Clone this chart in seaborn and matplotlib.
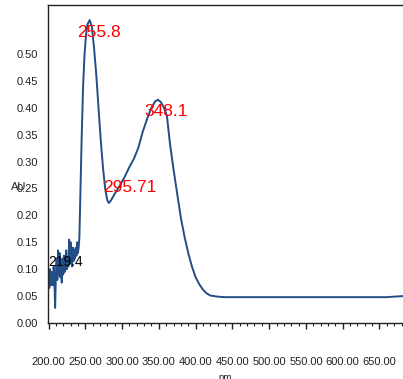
import matplotlib
matplotlib.use("Agg")
import matplotlib.pyplot as plt
import seaborn as sns
import pandas as pd
import numpy as np

# Spectrum data (wavelength nm, absorbance AU)
noise_nm = list(range(200, 243))
noise_au = [0.09, 0.065, 0.10, 0.07, 0.095, 0.075, 0.07, 0.105, 0.08, 0.028,
            0.09, 0.12, 0.08, 0.135, 0.09, 0.13, 0.085, 0.11, 0.075, 0.12,
            0.09, 0.125, 0.095, 0.10, 0.135, 0.10, 0.12, 0.105, 0.155, 0.11,
            0.15, 0.12, 0.105, 0.14, 0.115, 0.135, 0.12, 0.14, 0.125, 0.15,
            0.13, 0.14, 0.16]
band_nm = [243, 245, 247, 249, 251, 253, 256, 259, 262, 265, 268, 271, 274,
           277, 280, 282, 285, 290, 296, 303, 310, 316, 322, 328, 335, 340,
           345, 349, 353, 357, 361, 365, 370, 375, 380, 385, 390, 395, 400,
           405, 410, 415, 420, 430, 440]
band_au = [0.22, 0.34, 0.44, 0.50, 0.535, 0.555, 0.563, 0.55, 0.51, 0.46,
           0.40, 0.34, 0.29, 0.25, 0.228, 0.223, 0.228, 0.24, 0.253, 0.27,
           0.29, 0.305, 0.325, 0.355, 0.383, 0.40, 0.412, 0.415, 0.41, 0.40,
           0.385, 0.335, 0.285, 0.24, 0.195, 0.16, 0.13, 0.105, 0.085, 0.072,
           0.062, 0.055, 0.051, 0.049, 0.048]
tail_nm = [460, 500, 550, 600, 640, 660, 670, 682]
tail_au = [0.048, 0.048, 0.048, 0.048, 0.048, 0.048, 0.049, 0.05]

peak_labels = ["255.8", "348.1", "295.71"]
peak_x = [268, 360, 310]
peak_y = [0.539, 0.394, 0.251]
small_label = "219.4"
small_x, small_y = 223, 0.113

yticks = [0.00, 0.05, 0.10, 0.15, 0.20, 0.25, 0.30, 0.35, 0.40, 0.45, 0.50]
xticks = [200, 250, 300, 350, 400, 450, 500, 550, 600, 650]

df = pd.DataFrame({"nm": noise_nm + band_nm + tail_nm,
                   "AU": noise_au + band_au + tail_au})

sns.set_style("white")
plt.rcParams["font.family"] = ["Liberation Sans", "DejaVu Sans"]

fig = plt.figure(figsize=(4.03, 3.79), dpi=100)
ax = fig.add_axes([48 / 403, (379 - 323) / 379, (403 - 48) / 403, (323 - 5) / 379])

sns.lineplot(data=df, x="nm", y="AU", ax=ax, color="#234d85", linewidth=1.4,
             estimator=None, sort=False)

ax.set_xlim(199.3, 682)
ax.set_ylim(0, 0.591)
ax.set_yticks(yticks)
ax.set_yticklabels([f"{v:.2f}" for v in yticks])
ax.set_xticks(xticks)
ax.set_xticklabels([f"{v:.2f}" for v in xticks])
ax.set_xticks(np.arange(200, 690, 10), minor=True)

ax.tick_params(axis="x", which="major", length=4.5, width=1, color="#222222",
               direction="out", pad=20, labelsize=8, labelcolor="#222222", bottom=True)
ax.tick_params(axis="x", which="minor", length=2.5, width=0.8, color="#222222",
               direction="out", bottom=True)
ax.tick_params(axis="y", length=0, pad=7, labelsize=8, labelcolor="#222222")

for s in ["left", "bottom", "top"]:
    ax.spines[s].set_visible(True)
    ax.spines[s].set_color("#222222")
    ax.spines[s].set_linewidth(1.0)
ax.spines["right"].set_visible(False)

ax.set_xlabel("nm", fontsize=7, labelpad=4, color="#222222")
ax.set_ylabel("AU", fontsize=8, rotation=0, color="#222222", va="center", ha="center")
ax.yaxis.set_label_coords(-0.082, 0.428)

for t, x, y in zip(peak_labels, peak_x, peak_y):
    ax.text(x, y, t, color="red", fontsize=12.5, ha="center", va="center")
ax.text(small_x, small_y, small_label, color="black", fontsize=10, ha="center", va="center")

fig.savefig("out.png", dpi=100)
